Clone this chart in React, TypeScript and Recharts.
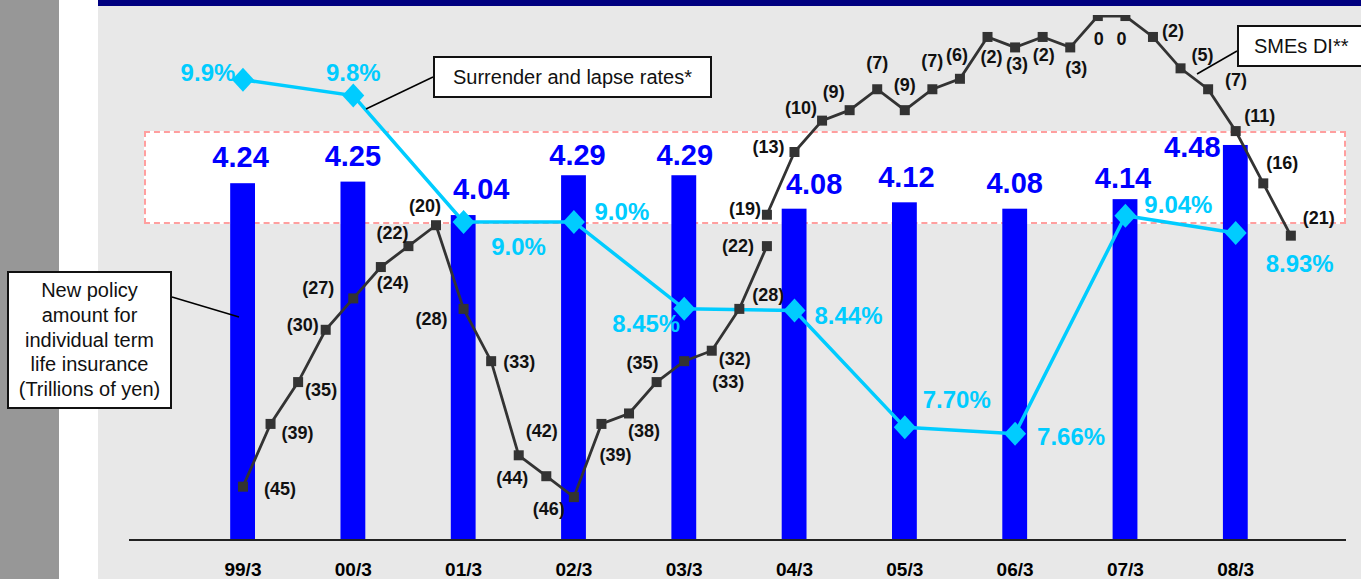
import React from 'react';
import { ComposedChart, Bar, Line, XAxis, YAxis } from 'recharts';

// fiscal year ends (March)
const years = ['99/3', '00/3', '01/3', '02/3', '03/3', '04/3', '05/3', '06/3', '07/3', '08/3'];
// new policy amount, individual term life (trillions of yen)
const policyAmount = [4.24, 4.25, 4.04, 4.29, 4.29, 4.08, 4.12, 4.08, 4.14, 4.48];
// surrender and lapse rates (%)
const lapseRate = [9.9, 9.8, 9.0, 9.0, 8.45, 8.44, 7.7, 7.66, 9.04, 8.93];
const lapseRateText = ['9.9%', '9.8%', '9.0%', '9.0%', '8.45%', '8.44%', '7.70%', '7.66%', '9.04%', '8.93%'];
// SMEs DI, quarterly from 99/3. The survey changed at 03/12 so the line breaks there
const smeDiOld = [-45, -39, -35, -30, -27, -24, -22, -20, -28, -33, -42, -44, -46, -39, -38, -35, -33, -32, -28, -22];
const smeDiNew = [-19, -13, -10, -9, -7, -9, -7, -6, -2, -3, -2, -3, 0, 0, -2, -5, -7, -11, -16, -21];

// label nudges (px) so the text sits where it does in the slide
const barLabelShift = [[-2, -26], [0, -26], [18, -26], [4, -20], [1, -20], [20, -25], [2, -25], [0, -26], [-2, -21], [-43, 2]];
const rateLabelShift = [[-35, -7], [0, -23], [55, 25], [48, -10], [-38, 15], [54, 5], [52, -28], [56, 3], [53, -11], [64, 30]];
const diOldShift = [[37, 2], [27, 9], [23, 8], [-23, -5], [-35, -10], [12, 16], [-16, -13], [-11, -19], [-32, 10], [28, 1],
  [23, -24], [-34, 2], [-25, 12], [14, 31], [15, 18], [-14, -19], [44, 21], [23, 8], [29, -14], [-29, 0]];
const diNewShift = [[-22, -6], [-26, -5], [-21, -13], [-16, -18], [0, -26], [0, -25], [0, -28], [-3, -24], [4, 20], [2, 17],
  [1, 18], [6, 21], [1, 23], [-4, 23], [20, -6], [22, -13], [28, -9], [24, -15], [19, -20], [28, -18]];

const breakAt = smeDiOld.length - 1;
const quarterCount = smeDiOld.length + smeDiNew.length - 1;

const rows = Array.from({ length: quarterCount }, (_, q) => ({
  q,
  amount: q % 4 === 0 ? policyAmount[q / 4] : null,
  rate: q % 4 === 0 ? lapseRate[q / 4] : null,
  diOld: q <= breakAt ? smeDiOld[q] : null,
  diNew: q >= breakAt ? smeDiNew[q - breakAt] : null,
}));

const FONT = "'Liberation Sans', Arial, sans-serif";
const BLUE = '#0000ff';
const CYAN = '#00ccff';
const DARK = '#333333';

const fmtDi = (v: number) => (v === 0 ? '0' : `(${-v})`);

const AmountBar = (p: any) => {
  const { x, y, width, height, payload } = p;
  if (payload == null || payload.amount == null) return <g />;
  const i = payload.q / 4;
  const [dx, dy] = barLabelShift[i];
  return (
    <g>
      <rect x={x} y={y} width={width} height={height} fill={BLUE} />
      <text x={x + width / 2 + dx} y={y + dy} textAnchor="middle" dominantBaseline="central"
        fontFamily={FONT} fontSize={29} fontWeight="bold" fill={BLUE}>
        {payload.amount.toFixed(2)}
      </text>
    </g>
  );
};

const rateDot = (p: any) => {
  const { cx, cy, payload } = p;
  if (payload == null || payload.rate == null || cy == null) return <g key={`r-${p.index}`} />;
  const i = payload.q / 4;
  const [dx, dy] = rateLabelShift[i];
  return (
    <g key={`r-${p.index}`}>
      <polygon points={`${cx},${cy - 12} ${cx + 11},${cy} ${cx},${cy + 12} ${cx - 11},${cy}`} fill={CYAN} />
      <text x={cx + dx} y={cy + dy} textAnchor="middle" dominantBaseline="central"
        fontFamily={FONT} fontSize={24} fontWeight="bold" fill={CYAN}>
        {lapseRateText[i]}
      </text>
    </g>
  );
};

const makeDiDot = (key: 'diOld' | 'diNew', shifts: number[][], start: number) => (p: any) => {
  const { cx, cy, payload } = p;
  if (payload == null || payload[key] == null || cy == null) return <g key={`${key}-${p.index}`} />;
  const [dx, dy] = shifts[payload.q - start];
  return (
    <g key={`${key}-${p.index}`}>
      <rect x={cx - 5} y={cy - 5} width={10} height={10} fill={DARK} />
      <text x={cx + dx} y={cy + dy} textAnchor="middle" dominantBaseline="central"
        fontFamily={FONT} fontSize={18} fontWeight="bold" fill="#111">
        {fmtDi(payload[key])}
      </text>
    </g>
  );
};

const boxStyle: React.CSSProperties = {
  position: 'absolute',
  background: '#fff',
  border: '2px solid #111',
  boxSizing: 'border-box',
  fontFamily: FONT,
  fontSize: 20,
  color: '#111',
  display: 'flex',
  alignItems: 'center',
  justifyContent: 'center',
  textAlign: 'center',
};

export default function App() {
  return (
    <div style={{ position: 'absolute', left: 0, top: 0, width: 1361, height: 579, overflow: 'hidden', background: '#fff' }}>
      <div style={{ position: 'absolute', left: 0, top: 0, width: 59, height: 579, background: '#979797' }} />
      <div style={{ position: 'absolute', left: 98, top: 0, width: 1263, height: 579, background: '#e8e8e8' }} />
      <div style={{ position: 'absolute', left: 98, top: 0, width: 1263, height: 6, background: '#000080' }} />
      <div style={{
        position: 'absolute', left: 144, top: 131, width: 1202, height: 93, background: '#fff',
        border: '2px dashed #ff9f9f', boxSizing: 'border-box',
      }} />

      <div style={{ position: 'absolute', left: 0, top: 0 }}>
        <ComposedChart width={1361} height={579} data={rows} margin={{ top: 15, right: 15, bottom: 0, left: 129 }}>
          <XAxis
            dataKey="q"
            type="number"
            domain={[-4.133, 40]}
            allowDataOverflow
            ticks={years.map((_, i) => i * 4)}
            tickFormatter={(v: number) => years[v / 4]}
            axisLine={{ stroke: '#222', strokeWidth: 2 }}
            tickLine={false}
            tickMargin={17}
            height={39}
            tick={{ fontSize: 19, fontWeight: 'bold', fill: '#000', fontFamily: FONT }}
          />
          <YAxis yAxisId="amt" hide type="number" domain={[2, 5.296]} allowDataOverflow />
          <YAxis yAxisId="rate" hide type="number" domain={[6.987, 10.31]} allowDataOverflow />
          <YAxis yAxisId="di" hide type="number" domain={[-50.1, 0.1]} allowDataOverflow />

          <Bar yAxisId="amt" dataKey="amount" barSize={28} fill={BLUE} shape={AmountBar} isAnimationActive={false} />
          <Line yAxisId="rate" dataKey="rate" type="linear" stroke={CYAN} strokeWidth={3.5} connectNulls
            dot={rateDot} activeDot={false} isAnimationActive={false} />
          <Line yAxisId="di" dataKey="diOld" type="linear" stroke={DARK} strokeWidth={2.8}
            dot={makeDiDot('diOld', diOldShift, 0)} activeDot={false} isAnimationActive={false} />
          <Line yAxisId="di" dataKey="diNew" type="linear" stroke={DARK} strokeWidth={2.8}
            dot={makeDiDot('diNew', diNewShift, breakAt)} activeDot={false} isAnimationActive={false} />
        </ComposedChart>
      </div>

      <svg width={1361} height={579} style={{ position: 'absolute', left: 0, top: 0, pointerEvents: 'none' }}>
        <line x1={433} y1={77} x2={366} y2={109} stroke="#000" strokeWidth={1.5} />
        <line x1={1237} y1={51} x2={1197} y2={74} stroke="#000" strokeWidth={1.5} />
        <line x1={172} y1={297} x2={239} y2={317} stroke="#000" strokeWidth={1.5} />
      </svg>

      <div style={{ ...boxStyle, left: 433, top: 56, width: 279, height: 42 }}>Surrender and lapse rates*</div>
      <div style={{ ...boxStyle, left: 1237, top: 25, width: 140, height: 42, justifyContent: 'flex-start', paddingLeft: 15 }}>SMEs DI**</div>
      <div style={{ ...boxStyle, left: 7, top: 271, width: 165, height: 138, lineHeight: '24.7px' }}>
        <div>New policy<br />amount for<br />individual term<br />life insurance<br />(Trillions of yen)</div>
      </div>
    </div>
  );
}
